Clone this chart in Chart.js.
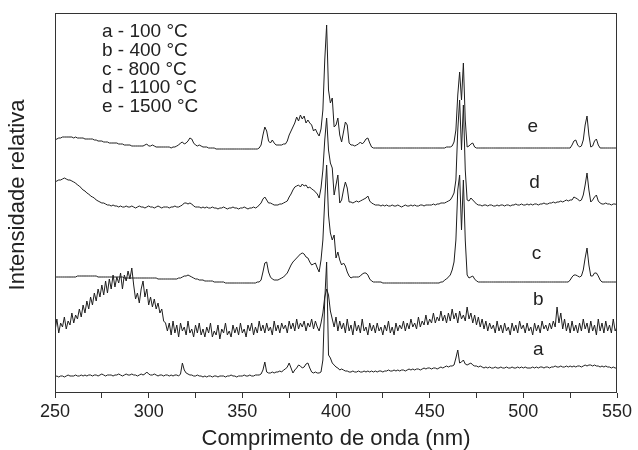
<!DOCTYPE html>
<html><head><meta charset="utf-8">
<script src="https://cdn.jsdelivr.net/npm/chart.js@4.4.1/dist/chart.umd.min.js"></script>
<style>html,body{margin:0;padding:0;background:#fff;}canvas{display:block;}</style>
</head><body>
<canvas id="c" width="638" height="450"></canvas>
<script>
// wavelength grid (nm), 1 nm sampling
const wavelengths = Array.from({length: 301}, (_, i) => 250 + i);

// a - 100 °C
const seriesA = [
16,17,16,17,17,16,17,18,17,17, 17,18,17,17,18,17,18,17,18,18,
17,18,18,17,18,19,18,17,18,18, 18,17,18,18,19,18,17,18,19,18,
18,19,18,18,17,18,19,18,19,21, 19,18,18,19,18,17,18,18,17,18,
18,17,18,17,18,18,17,19,30,23, 20,19,18,18,17,17,18,17,17,16,
17,16,17,17,16,17,17,16,17,17, 17,16,17,17,18,17,17,16,17,17,
17,18,17,17,18,17,17,18,18,18, 19,23,31,21,20,20,21,20,21,21,
22,21,23,24,26,30,25,20,23,25, 28,27,25,26,29,30,25,21,20,21,
20,20,21,33,93,131,38,35,30,28, 26,25,23,24,23,22,22,21,21,22,
21,21,22,21,21,22,21,22,21,22, 21,22,21,22,22,21,22,22,23,22,
22,23,22,23,22,23,23,22,23,24, 23,24,23,24,24,23,24,25,24,25,
25,24,25,25,24,25,26,25,26,27, 26,27,27,28,35,43,30,31,33,29,
28,29,30,28,27,27,26,27,26,25, 26,25,26,25,25,26,25,25,26,25,
25,26,25,25,26,25,25,26,25,26, 25,26,25,25,25,26,25,26,25,26,
26,25,26,26,25,26,26,27,26,26, 27,26,26,27,26,27,26,27,26,27,
27,26,27,28,27,28,28,27,28,27, 27,26,27,26,27,26,26,25,26,25,
25];

// b - 400 °C
const seriesB = [
62,74,60,70,66,76,64,72,68,80, 70,78,74,84,76,88,80,92,84,96,
88,100,92,104,96,108,98,112,100,114, 104,118,106,116,110,120,104,118,112,122,
114,125,108,94,100,90,104,112,96,104, 88,96,86,94,84,90,80,84,72,70,
62,70,58,72,60,68,56,70,62,66, 58,72,60,64,56,68,60,70,58,64,
56,66,60,70,56,62,58,68,54,64, 60,70,58,62,56,68,60,66,58,70,
60,64,56,68,62,70,58,66,60,72, 62,68,60,70,62,66,58,72,62,68,
60,70,64,68,60,72,64,70,62,74, 64,70,66,72,62,70,66,74,64,72,
66,62,70,80,96,104,98,82,74,66, 76,62,72,64,70,60,74,62,68,58,
72,62,68,60,74,62,66,58,70,62, 68,60,70,62,66,58,68,62,72,60,
66,58,70,62,68,64,72,62,70,64, 74,66,70,64,76,66,72,68,78,68,
74,70,80,70,76,72,82,72,78,70, 80,72,84,74,80,70,82,74,78,72,
86,74,80,70,78,68,76,66,74,64, 72,62,70,64,68,60,72,62,68,60,
70,62,66,58,70,62,68,60,72,64, 68,60,70,62,66,58,70,62,68,60,
72,64,68,62,70,64,72,66,86,70, 80,64,74,62,70,60,72,62,68,60,
70,62,74,64,70,60,72,62,68,58, 74,62,70,60,72,62,68,60,74,62,
66];

// c - 800 °C
const seriesC = [
116,116,116,116,116,116,116,116,116,116, 116,116,117,117,117,117,117,117,117,117,
117,117,117,116,116,116,116,116,116,116, 116,116,116,116,116,116,116,115,115,115,
115,115,115,115,115,115,115,115,115,115, 115,115,115,115,115,114,114,114,114,114,
114,114,114,114,114,114,115,115,116,117, 117,118,117,116,115,114,114,113,113,113,
112,112,112,112,112,111,111,111,111,111, 111,110,110,110,110,110,110,110,110,110,
110,110,110,110,110,110,110,110,111,111, 113,121,130,131,121,116,114,113,113,113,
114,115,116,118,120,124,128,131,133,135, 137,139,140,139,136,135,131,128,129,130,
125,121,133,153,193,228,178,160,153,158, 135,141,133,128,130,127,121,117,115,116,
116,116,116,117,119,120,120,118,114,112, 111,111,111,111,111,110,110,110,110,110,
110,110,110,110,110,110,110,110,110,110, 110,110,110,110,110,110,110,110,110,110,
110,110,110,110,110,110,111,111,113,114, 116,118,123,131,153,203,218,163,213,153,
118,115,116,117,114,112,111,111,111,111, 111,111,111,111,111,111,111,111,111,111,
111,111,111,111,111,111,111,111,111,111, 111,111,111,111,111,111,111,111,111,111,
111,111,111,111,111,111,111,111,111,111, 111,111,111,111,111,113,116,118,118,117,
116,117,123,135,145,128,117,117,120,120, 117,113,111,111,111,111,111,111,111,111,
111];

// d - 1100 °C
const seriesD = [
211,212,213,213,214,215,214,213,213,212, 211,210,208,207,205,203,202,200,199,197,
196,195,193,192,191,190,190,189,188,188, 187,188,187,187,186,187,186,186,187,186,
186,187,186,185,186,187,186,186,185,186, 187,186,186,185,186,187,186,185,186,186,
186,185,186,186,187,186,186,187,188,190, 190,189,190,189,187,186,186,186,185,186,
185,186,185,185,186,185,185,184,185,185, 186,185,184,185,185,186,185,185,184,185,
185,186,185,184,185,185,186,185,186,188, 190,194,196,193,190,190,189,188,188,188,
189,189,190,191,192,196,199,203,206,207, 208,206,209,207,208,205,206,204,203,201,
199,195,205,223,253,275,243,230,225,198, 208,218,190,193,203,211,205,191,191,190,
191,192,191,192,193,194,195,197,192,190, 189,188,188,188,187,188,187,188,187,187,
188,187,187,188,187,186,187,188,187,187, 188,187,188,187,187,188,188,187,188,188,
188,188,189,188,189,189,190,190,190,191, 192,193,196,200,213,263,293,243,288,223,
193,192,195,193,191,189,188,188,187,188, 188,187,188,188,187,187,188,187,188,188,
187,188,188,187,188,188,189,188,188,189, 188,188,189,188,189,188,189,189,188,189,
189,190,189,189,190,190,191,190,191,191, 192,191,192,193,192,193,193,196,195,194,
192,193,198,208,220,203,191,193,196,198, 192,190,189,189,190,189,189,188,189,189,
188];

// e - 1500 °C
const seriesE = [
253,254,255,255,256,256,256,256,256,256, 255,256,255,255,255,255,254,254,254,254,
254,253,253,252,252,252,251,251,251,250, 250,250,250,250,249,249,249,248,248,248,
248,247,247,247,247,247,247,247,248,249, 247,247,248,247,246,246,246,246,246,246,
246,246,245,246,246,247,248,250,251,249, 250,252,255,254,250,248,247,248,247,246,
246,246,245,245,245,245,244,244,244,244, 244,244,244,244,244,244,244,244,244,244,
244,244,244,244,244,244,244,244,244,245, 248,258,266,262,252,250,253,250,248,248,
248,248,249,249,252,258,262,266,270,276, 272,278,274,277,270,273,270,268,262,264,
260,257,264,283,333,368,303,290,295,266, 268,275,258,251,261,271,268,250,248,248,
247,248,249,251,249,251,254,255,250,246, 245,245,245,245,245,245,245,245,245,245,
245,245,245,245,245,245,245,245,245,245, 245,245,245,245,245,245,245,245,245,245,
245,245,245,245,245,245,245,245,245,246, 246,246,247,251,263,298,321,293,330,273,
246,247,249,250,246,245,245,245,245,245, 245,245,245,245,245,245,245,245,245,245,
245,245,245,245,245,245,245,245,245,245, 245,245,245,245,245,245,245,245,245,245,
245,245,245,245,245,245,245,245,245,245, 245,245,245,245,245,245,248,252,253,248,
246,247,253,268,277,258,246,247,252,254, 248,245,245,245,245,245,245,245,245,245,
245];

const xTickLabels = [250, 300, 350, 400, 450, 500, 550];
const legendTexts = ['a - 100 °C', 'b - 400 °C', 'c - 800 °C', 'd - 1100 °C', 'e - 1500 °C'];
const legendAnchor = {nm: 275.1, value: 356, step: 18.8};
const curveNames = ['a', 'b', 'c', 'd', 'e'];
const curveLabelNm = [508, 508, 507, 506, 505];
const curveLabelValue = [43, 93, 139, 210, 266];
const yTitle = 'Intensidade relativa';

const allSeries = [seriesA, seriesB, seriesC, seriesD, seriesE];
const INK = '#1e1e1e';
const FONT = '"Liberation Sans", Arial, Helvetica, sans-serif';

const datasets = allSeries.map((s, k) => ({
  label: curveNames[k],
  data: s.map((v, i) => ({x: wavelengths[i], y: v})),
  borderColor: INK,
  borderWidth: 1,
  pointRadius: 0,
  tension: 0,
  fill: false
}));

const overlay = {
  id: 'overlay',
  afterDraw(chart) {
    const {ctx, chartArea: a, scales: {x, y}} = chart;
    ctx.save();
    ctx.strokeStyle = '#333';
    ctx.lineWidth = 1;
    ctx.strokeRect(a.left + 0.5, a.top + 0.5, a.right - a.left - 1, a.bottom - a.top - 1);
    ctx.fillStyle = '#222';
    ctx.font = '19px ' + FONT;
    ctx.textAlign = 'left';
    ctx.textBaseline = 'alphabetic';
    legendTexts.forEach((t, i) => {
      ctx.fillText(t, x.getPixelForValue(legendAnchor.nm),
        y.getPixelForValue(legendAnchor.value - i * legendAnchor.step));
    });
    ctx.textAlign = 'center';
    ctx.textBaseline = 'middle';
    curveNames.forEach((t, i) => {
      ctx.fillText(t, x.getPixelForValue(curveLabelNm[i]), y.getPixelForValue(curveLabelValue[i]));
    });
    // vertical axis title
    ctx.font = '22px ' + FONT;
    ctx.translate(a.left - 37, (a.top + a.bottom) / 2 - 8);
    ctx.rotate(-Math.PI / 2);
    ctx.fillText(yTitle, 0, 0);
    ctx.restore();
  }
};

new Chart(document.getElementById('c'), {
  type: 'line',
  data: {datasets},
  plugins: [overlay],
  options: {
    responsive: false,
    animation: false,
    devicePixelRatio: 1,
    layout: {padding: {top: 13, right: 21, left: 0, bottom: 0}},
    plugins: {legend: {display: false}, tooltip: {enabled: false}},
    scales: {
      x: {
        type: 'linear',
        min: 250, max: 550,
        afterFit(scale) { scale.height = 57; },
        border: {display: false},
        grid: {drawOnChartArea: false, drawTicks: true, tickLength: 5, color: '#333'},
        ticks: {
          stepSize: 25, autoSkip: false, maxRotation: 0, padding: 3,
          color: '#222', font: {family: FONT, size: 18},
          callback: (v) => xTickLabels.includes(v) ? String(v) : ''
        },
        title: {display: true, text: 'Comprimento de onda (nm)', color: '#222',
          font: {family: FONT, size: 22, lineHeight: 1}, padding: {top: 0, bottom: 0}}
      },
      y: {
        min: 0, max: 380,
        afterFit(scale) { scale.width = 55; },
        border: {display: false},
        grid: {display: false},
        ticks: {display: false},
        title: {display: false}
      }
    }
  }
});
</script>
</body></html>
